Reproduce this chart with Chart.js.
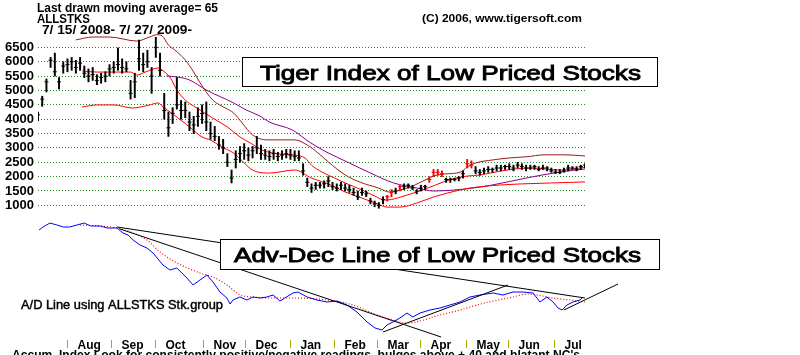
<!DOCTYPE html>
<html><head><meta charset="utf-8">
<script src="https://cdn.jsdelivr.net/npm/chart.js@4/dist/chart.umd.min.js"></script>
<style>html,body{margin:0;padding:0;background:#fff;}#wrap{width:800px;height:355px;}</style>
</head><body><div id="wrap"><canvas id="c" width="800" height="355"></canvas></div>
<script>
const FONT = '"Liberation Sans", Arial, sans-serif';

// ---- Price bars (one bar every 2 trading days from 7/15/2008) ----
const lows = [
 3950,4450,4950,5800,5500,5050,5600,5650,5700,5600,
 5700,5450,5300,5350,5200,5250,5300,5500,5600,5700,
 5600,5650,4700,4750,5700,5650,5800,4900,6150,5500,
 4000,3400,3850,4350,4000,4050,3600,3500,3750,3850,
 3600,3300,3250,2950,2800,2350,1780,2300,2500,2600,
 2550,2650,2800,2600,2600,2550,2600,2550,2600,2650,
 2600,2550,2550,2050,1650,1450,1550,1600,1600,1650,
 1550,1500,1550,1500,1450,1350,1200,1350,1300,1050,
 950,900,1050,1150,1300,1400,1500,1550,1600,1550,
 1400,1500,1550,1800,2000,2050,2000,1800,1800,1850,
 1850,1950,2300,2300,2100,2050,2100,2150,2150,2200,
 2200,2250,2250,2200,2300,2250,2200,2250,2250,2200,
 2250,2200,2150,2100,2100,2150,2200,2250,2200,2250,
 2300];
const highs = [
 4250,4800,5400,6150,6300,5450,6000,6100,6150,6050,
 6150,5850,5750,5800,5550,5600,5650,5900,6000,6480,
 6100,6000,5350,5600,6750,6300,6400,5800,6850,6300,
 4900,4250,4400,5450,4650,4600,4250,4100,4400,4500,
 4600,3900,3750,3400,3300,2800,2230,2900,3050,3150,
 3000,3050,3400,3100,2950,2900,2950,2850,2900,2950,
 2950,2900,2900,2450,1950,1750,1800,1800,1850,2000,
 1800,1750,1800,1750,1700,1600,1500,1600,1500,1250,
 1150,1100,1300,1350,1550,1600,1700,1750,1750,1700,
 1550,1700,1700,2000,2250,2250,2200,1950,1950,1950,
 2000,2200,2600,2550,2350,2250,2300,2350,2300,2400,
 2400,2400,2450,2400,2500,2450,2400,2400,2400,2350,
 2400,2350,2300,2250,2250,2300,2400,2350,2350,2400,
 2450];
const closes = [
 4150,4700,5300,6050,5650,5300,5850,5900,6000,5800,
 5950,5600,5500,5550,5350,5450,5500,5750,5800,5900,
 5800,5750,4900,5300,6100,5900,6000,5500,6500,5700,
 4300,3700,4200,4500,4300,4300,3900,3800,4100,4200,
 3900,3500,3400,3100,3000,2500,1950,2600,2800,2900,
 2750,2900,3000,2800,2750,2700,2800,2700,2750,2800,
 2750,2700,2650,2200,1800,1600,1700,1700,1750,1850,
 1650,1600,1700,1600,1550,1450,1300,1450,1400,1150,
 1050,1000,1200,1300,1450,1500,1650,1650,1700,1600,
 1500,1600,1650,1900,2150,2150,2100,1900,1900,1900,
 1950,2100,2450,2400,2200,2150,2200,2250,2250,2300,
 2300,2350,2350,2300,2400,2350,2300,2300,2350,2250,
 2300,2300,2200,2150,2150,2200,2300,2300,2250,2350,
 2400];
const days = lows.map((_, i) => i * 2);          // trading-day position of each bar
const redBarDays = [166,168,172,186,188,190,192,204,206];

// ---- Bands / moving averages: [trading day, price] ----
const upperBand = [[18,6760],[26,6860],[34,6860],[47,6720],[53,6860],[56.5,6940],[59,6900],[62,6580],[65,6410],[70,6060],[74,5640],[77,5270],[83,4670],[89,4390],[93,4215],[97,3870],[102,3450],[109,3280],[122,3280],[128,3100],[133,2830],[138,2510],[146,2060],[153,1810],[162,1600],[167,1465],[172,1535],[177,1640],[182,1810],[188,2020],[193,2090],[201,2160],[204,2335],[208,2475],[216,2580],[224,2650],[232,2690],[241,2760],[250,2760],[260,2720]];
const centerBand = [[21,5680],[28,5640],[34,5640],[44,5640],[47,5535],[51,5640],[57,5780],[59.5,5680],[63,5430],[66,5015],[70,4665],[74,4455],[77,4320],[83,4040],[90,3730],[96,3380],[101,3170],[106.5,2925],[115,2785],[122,2750],[127,2645],[130,2400],[135,2160],[141,1950],[146,1780],[154,1535],[160,1325],[165,1185],[177,1395],[184,1570],[189,1710],[197,1920],[204,2020],[210,2055],[220,2195],[234,2300],[248,2230],[260,2320]];
const lowerBand = [[21,4425],[28,4495],[36,4495],[45,4390],[53,4495],[57,4565],[59.5,4425],[66,4075],[72,3730],[78,3380],[82,3275],[87.5,3030],[93,2820],[102,2230],[110,2125],[122,2230],[130,1950],[138,1745],[146,1465],[154,1255],[161.5,1045],[166,940],[172,940],[180,1080],[188,1290],[200.5,1535],[209,1640],[220,1710],[229,1745],[244,1780],[260,1815]];
const ma65 = [[61,5505],[66,5470],[72,5365],[80,5015],[93,4565],[99,4320],[105.5,4110],[110,3900],[121,3620],[129,3205],[137,2860],[148,2475],[158,2125],[169,1780],[180,1605],[188,1500],[207,1605],[216,1710],[232,1950],[248,2160],[260,2265]];

// ---- A/D line (arbitrary units) : [trading day, value] ----
const adLine = [[0.5,115],[2.4,118],[5.7,122],[9,120],[12,118],[15,118],[18.5,120],[22,122],[25,119],[29.5,119],[33,117],[37.6,117],[40.4,112],[42.8,110],[45.2,105],[48.5,100],[51.8,97],[54.7,92],[59.4,80],[62.7,75],[66,77],[70.8,67],[73.7,60],[77,65],[80.3,70],[83.2,63],[86.5,53],[89.8,47],[91.3,41],[92.7,45],[96,48],[99.3,45],[102.2,48],[105.5,47],[108.8,48],[111.7,50],[115,44],[121.2,52],[123.6,53],[127.9,48],[132.6,45],[137.4,43],[142.1,44],[146.9,40],[151.6,33],[156.4,23],[160.2,17],[163.5,15],[165.9,20],[168.7,23],[172,27],[175.4,32],[178.2,28],[181.6,32],[186.3,35],[191.1,37],[195.8,40],[200.6,43],[205.3,48],[210.1,50],[216.3,52],[221,50],[225.8,53],[230.5,53],[235.3,52],[238.6,43],[241.9,48],[244.8,43],[247.2,37],[249.1,35],[251.4,40],[254.3,43],[257.6,45],[259,48]];
const adMA = [[20,120],[29.5,119],[37.6,117],[45.2,112],[51.8,105],[58,93],[66.1,82],[77,72],[83.2,68],[89.8,60],[96,50],[102.2,48],[108.8,47],[121.2,47],[137.4,45],[149.7,40],[161.1,30],[168.7,25],[175.4,22],[181.6,24],[191.1,30],[200.6,35],[208.7,40],[216.3,44],[225.8,48],[232.4,51],[237.2,50],[244.8,47],[252.9,45],[260,43]];
const trendLines = [
  [[37.6,118],[260,47]],
  [[39,116],[191.6,8]],
  [[164,13],[223.4,60]],
  [[250,35],[275.7,61]]
];

const priceTicks = [1000,1500,2000,2500,3000,3500,4000,4500,5000,5500,6000,6500];
const monthDays = [14,34.5,55.5,78.5,98.5,120,140.5,161,181.5,203.5,223.5,245.5];
const monthLabels = ['Aug','Sep','Oct','Nov','Dec','Jan','Feb','Mar','Apr','May','Jun','Jul'];

const pts = arr => arr.map(([x, y]) => ({x, y}));
const barColor = i => redBarDays.includes(days[i]) ? '#ff0000' : '#000000';

function fitText(ctx, text, x, y, font, width, thick) {
  ctx.save();
  ctx.font = font;
  ctx.fillStyle = '#000';
  ctx.strokeStyle = '#000';
  ctx.textBaseline = 'alphabetic';
  ctx.textAlign = 'left';
  const w = ctx.measureText(text).width;
  ctx.translate(x, y);
  ctx.scale(width / w, 1);
  ctx.fillText(text, 0, 0);
  if (thick) { ctx.lineWidth = thick; ctx.strokeText(text, 0, 0); }
  ctx.restore();
}
function box(ctx, x, y, w, h) {
  ctx.save();
  ctx.fillStyle = '#fff';
  ctx.fillRect(x, y, w, h);
  ctx.strokeStyle = '#000';
  ctx.lineWidth = 1;
  ctx.strokeRect(x, y, w, h);
  ctx.restore();
}

const decor = {
  id: 'decor',
  beforeDraw(chart) {
    const c = chart.ctx; c.save(); c.fillStyle = '#fff'; c.fillRect(0, 0, chart.width, chart.height); c.restore();
  },
  afterDraw(chart) {
    const ctx = chart.ctx;
    const xs = chart.scales.x;
    fitText(ctx, 'Last drawn moving average= 65', 37, 12, 'bold 12px ' + FONT, 181);
    fitText(ctx, 'ALLSTKS', 37, 23, 'bold 12px ' + FONT, 53);
    fitText(ctx, '7/ 15/ 2008- 7/ 27/ 2009-', 42, 34, 'bold 12px ' + FONT, 150);
    fitText(ctx, '(C) 2006, www.tigersoft.com', 422, 22, 'bold 11px ' + FONT, 160);

    box(ctx, 242.5, 57.5, 415, 29);
    fitText(ctx, 'Tiger Index of Low Priced Stocks', 260, 80, '21px ' + FONT, 381, 0.9);
    box(ctx, 220.5, 239.5, 439, 30);
    fitText(ctx, 'Adv-Dec Line of Low Priced Stocks', 234, 262, '21px ' + FONT, 407, 0.9);

    fitText(ctx, 'A/D Line using ALLSTKS Stk.group', 21, 309, '13px ' + FONT, 202, 0.45);

    ctx.save();
    ctx.font = 'bold 12px ' + FONT;
    ctx.fillStyle = '#000';
    monthDays.forEach((d, i) => {
      const px = Math.round(xs.getPixelForValue(d)) + 0.5;
      ctx.strokeStyle = '#a8a800';
      ctx.lineWidth = 1;
      ctx.beginPath(); ctx.moveTo(px, 340); ctx.lineTo(px, 348); ctx.stroke();
      ctx.fillText(monthLabels[i], px + 10, 349);
    });
    ctx.restore();

    fitText(ctx, "Accum. Index Look for consistently positive/negative readings, bulges above +.40 and blatant NC's", 12, 359, 'bold 12px ' + FONT, 568);
  }
};

const lineDs = (data, color, extra) => Object.assign({
  type: 'line', data: pts(data), borderColor: color, borderWidth: 1, pointRadius: 0,
  fill: false, cubicInterpolationMode: 'monotone', yAxisID: 'y', order: 5
}, extra || {});

const datasets = [
  { type: 'bar', data: days.map((d, i) => ({x: d, y: [lows[i], highs[i]]})),
    backgroundColor: c => barColor(c.dataIndex), borderWidth: 0, barThickness: 1.3,
    grouped: false, yAxisID: 'y', order: 0 },
  { type: 'line', data: days.map((d, i) => ({x: d, y: closes[i]})), showLine: false,
    pointStyle: 'line', pointRadius: 2, pointBorderWidth: 1,
    pointBorderColor: c => barColor(c.dataIndex), yAxisID: 'y', order: 0 },
  lineDs(upperBand, '#9a1b1b'),
  lineDs(centerBand, '#ff0000'),
  lineDs(lowerBand, '#ff0000'),
  lineDs(ma65, '#8b008b'),
  lineDs(adLine, '#0000ff', {yAxisID: 'y2', cubicInterpolationMode: 'default', tension: 0}),
  lineDs(adMA, '#ff0000', {yAxisID: 'y2', borderDash: [1, 2], borderWidth: 1.2}),
];
trendLines.forEach((t, i) => datasets.push(lineDs(t, '#000000', {yAxisID: 'y2', tension: 0, cubicInterpolationMode: 'default', clip: i === 3 ? false : undefined, order: 3})));

new Chart(document.getElementById('c'), {
  type: 'bar',
  data: { datasets },
  options: {
    responsive: false, animation: false, devicePixelRatio: 1, events: [],
    layout: { padding: { left: 0, right: 215, top: 33, bottom: 15 } },
    plugins: { legend: { display: false }, tooltip: { enabled: false } },
    scales: {
      x: { type: 'linear', min: 0, max: 260, offset: false, display: false, grid: { offset: false } },
      y: {
        type: 'linear', position: 'left', min: -3687, max: 7000,
        afterBuildTicks: s => { s.ticks = priceTicks.map(v => ({value: v})); },
        afterFit: s => { s.width = 38; },
        grid: { color: '#228b22', lineWidth: 1, drawTicks: false },
        border: { display: false, dash: [1, 2] },
        ticks: { color: '#000', padding: 4, autoSkip: false, callback: v => String(v),
                 font: { family: FONT, size: 13, weight: 'bold' } }
      },
      y2: { type: 'linear', min: 5, max: 312, display: false }
    }
  },
  plugins: [decor]
});
</script></body></html>
